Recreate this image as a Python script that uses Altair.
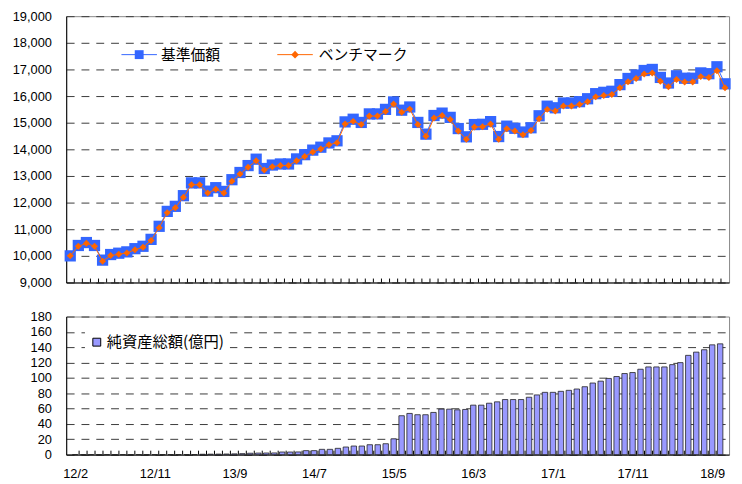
import altair as alt
import pandas as pd

# ---------------- data ----------------
x_labels = ["12/2", "12/11", "13/9", "14/7", "15/5", "16/3", "17/1", "17/11", "18/9"]
legend_labels = ["基準価額", "ベンチマーク"]
nav_label = "純資産総額(億円)"

fund = [10000, 10390, 10500, 10390, 9840, 10050, 10100, 10150, 10270, 10360,
        10620, 11110, 11670, 11860, 12260, 12740, 12740, 12430, 12560, 12420,
        12860, 13130, 13390, 13630, 13280, 13410, 13450, 13450, 13640, 13800,
        13970, 14080, 14240, 14320, 15030, 15130, 15010, 15330, 15330, 15500,
        15780, 15470, 15590, 15010, 14570, 15270, 15360, 15200, 14780, 14470,
        14930, 14940, 15040, 14480, 14870, 14790, 14650, 14810, 15260, 15620,
        15560, 15740, 15740, 15790, 15900, 16090, 16140, 16180, 16430, 16660,
        16790, 16960, 17000, 16700, 16490, 16760, 16670, 16670, 16870, 16840,
        17100, 16460]

benchmark = [10000, 10360, 10470, 10360, 9800, 10010, 10060, 10110, 10230, 10320,
             10580, 11060, 11620, 11810, 12200, 12670, 12670, 12360, 12500, 12360,
             12800, 13070, 13330, 13570, 13220, 13350, 13390, 13390, 13570, 13730,
             13900, 14010, 14170, 14250, 14950, 15050, 14930, 15250, 15250, 15420,
             15700, 15390, 15510, 14930, 14490, 15180, 15270, 15120, 14690, 14380,
             14840, 14850, 14950, 14380, 14770, 14690, 14550, 14710, 15150, 15500,
             15440, 15630, 15630, 15680, 15790, 15970, 16020, 16060, 16310, 16540,
             16660, 16830, 16870, 16560, 16350, 16620, 16530, 16530, 16730, 16700,
             16950, 16310]

net_assets = [0, 0, 0, 0, 0, 0, 0, 0, 0, 0,
              0, 0, 0, 0, 0, 0, 0.5, 0.6, 0.7, 0.8,
              1.0, 1.3, 1.8, 2.0, 2.1, 2.2, 3.4, 3.4, 3.5, 5.2,
              5.2, 6.9, 6.9, 8.2, 9.9, 11.2, 11.2, 12.9, 12.9, 14.2,
              20.6, 50.7, 53.7, 52.0, 52.0, 55.0, 59.3, 59.3, 58.4, 58.9,
              64.5, 64.5, 67.0, 68.8, 71.8, 71.8, 71.8, 74.8, 77.8, 81.2,
              81.2, 82.5, 83.8, 85.5, 88.5, 93.3, 95.8, 99.3, 101.8, 105.7,
              107.0, 111.3, 114.3, 114.3, 114.3, 117.3, 119.9, 129.4, 133.6, 136.7,
              143.1, 144.4]

n = len(fund)
df = pd.DataFrame({"i": list(range(n)), "fund": fund, "bench": benchmark, "nav": net_assets})
ticks_df = pd.DataFrame({"b": [k + 0.5 for k in range(n - 1)]})
one = pd.DataFrame({"k": [0]})

# ---------------- style ----------------
W = 672
H1 = 270
H2 = 140
NUMF = "Liberation Sans"
JPF = "Noto Sans CJK JP"
BLUE = "#3366FF"
ORANGE = "#FF6600"
BARC = "#9999FF"
GRID = "#3a3a3a"
DASH = [8, 7]

xscale = alt.Scale(domain=[-0.5, n - 0.5], nice=False, zero=False)
label_expr = "[" + ",".join(f"'{s}'" for s in x_labels) + "][round(datum.value / 10)]"


def yaxis(vals, fmt):
    return alt.Axis(values=vals, format=fmt, grid=True, gridDash=DASH, gridColor=GRID,
                    gridWidth=1, ticks=False, labelPadding=15, minExtent=58, maxExtent=58,
                    labelOverlap=False, labelFlush=False,
                    domainColor="#000", domainWidth=1, title=None, labelFontSize=13,
                    labelFont=NUMF, labelColor="#000")


# ---------------- top chart ----------------
x_top = alt.X("i:Q", scale=xscale,
              axis=alt.Axis(labels=False, ticks=False, grid=False, domain=True,
                            domainColor="#000", title=None))
y_scale_top = alt.Scale(domain=[9000, 19000], nice=False, zero=False)
top_vals = list(range(9000, 19001, 1000))
top_axis = yaxis(top_vals, ",.0f")

base = alt.Chart(df)
fund_line = base.mark_line(color=BLUE, strokeWidth=1).encode(
    x=x_top, y=alt.Y("fund:Q", scale=y_scale_top, axis=top_axis))
fund_pts = base.mark_point(shape="square", filled=True, size=130, color=BLUE, opacity=1).encode(
    x=x_top, y=alt.Y("fund:Q", scale=y_scale_top, axis=top_axis))
bench_line = base.mark_line(color=ORANGE, strokeWidth=1).encode(
    x=x_top, y=alt.Y("bench:Q", scale=y_scale_top, axis=top_axis))
bench_pts = base.mark_point(shape="diamond", filled=True, size=50, color=ORANGE, opacity=1).encode(
    x=x_top, y=alt.Y("bench:Q", scale=y_scale_top, axis=top_axis))
top_ticks = alt.Chart(ticks_df).mark_rule(color="#000", strokeWidth=1).encode(
    x=alt.X("b:Q", scale=xscale), y=alt.value(H1), y2=alt.value(H1 - 4))

LY = 39
leg = alt.Chart(one)
leg1_line = leg.mark_rule(color=BLUE, strokeWidth=1).encode(
    x=alt.value(56), x2=alt.value(92), y=alt.value(LY))
leg1_pt = leg.mark_point(shape="square", filled=True, size=81, color=BLUE, opacity=1).encode(
    x=alt.value(74), y=alt.value(LY))
leg1_txt = leg.mark_text(align="left", baseline="middle", font=JPF, fontSize=15,
                         color="#000", text=legend_labels[0]).encode(
    x=alt.value(96), y=alt.value(LY))
leg2_line = leg.mark_rule(color=ORANGE, strokeWidth=1).encode(
    x=alt.value(214), x2=alt.value(250), y=alt.value(LY))
leg2_pt = leg.mark_point(shape="diamond", filled=True, size=60, color=ORANGE, opacity=1).encode(
    x=alt.value(232), y=alt.value(LY))
leg2_txt = leg.mark_text(align="left", baseline="middle", font=JPF, fontSize=15,
                         color="#000", text=legend_labels[1]).encode(
    x=alt.value(256), y=alt.value(LY))

top = alt.layer(fund_line, fund_pts, bench_line, bench_pts, top_ticks,
                leg1_line, leg1_pt, leg1_txt, leg2_line, leg2_pt, leg2_txt).properties(
    width=W, height=H1)

# ---------------- bottom chart ----------------
x_bot = alt.X("i:Q", scale=xscale,
              axis=alt.Axis(values=list(range(0, n, 10)), labelExpr=label_expr, ticks=False,
                            grid=False, labelPadding=13, labelFontSize=13, labelFont=NUMF,
                            labelColor="#000", labelFlush=False, labelOverlap=False,
                            domainColor="#000", domainWidth=1, title=None))
bars = alt.Chart(df).mark_bar(size=5.5, color=BARC, stroke="#222", strokeWidth=0.8).encode(
    x=x_bot,
    y=alt.Y("nav:Q", scale=alt.Scale(domain=[0, 180], nice=False),
            axis=yaxis(list(range(0, 181, 20)), "d")))
bot_ticks = alt.Chart(ticks_df).mark_rule(color="#000", strokeWidth=1).encode(
    x=alt.X("b:Q", scale=xscale), y=alt.value(H2), y2=alt.value(H2 - 4))
leg3_box = leg.mark_rect(color="white").encode(
    x=alt.value(19), x2=alt.value(166), y=alt.value(10), y2=alt.value(37))
leg3_sw = leg.mark_square(size=64, fill=BARC, stroke="#000", strokeWidth=1, opacity=1).encode(
    x=alt.value(31), y=alt.value(26))
leg3_txt = leg.mark_text(align="left", baseline="middle", font=JPF, fontSize=15.5,
                         color="#000", text=nav_label).encode(
    x=alt.value(41), y=alt.value(26))

bottom = alt.layer(bars, bot_ticks, leg3_box, leg3_sw, leg3_txt).properties(width=W, height=H2)

chart = alt.vconcat(top, bottom, spacing=19.5).configure(
    padding={"left": 0, "top": -2, "right": 2, "bottom": 0}
).configure_view(stroke="#888", strokeWidth=1).configure_concat(spacing=19.5)

chart.save("out.html", embed_options={"renderer": "svg", "actions": False})
